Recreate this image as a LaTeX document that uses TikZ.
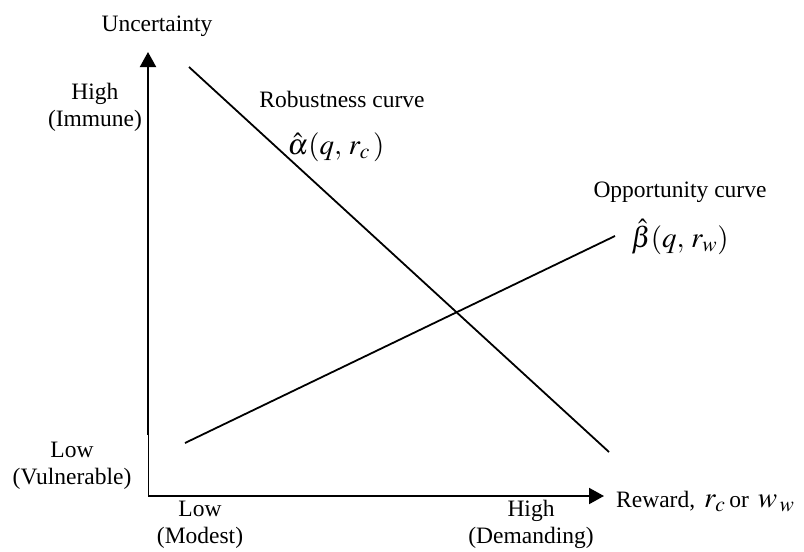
\documentclass[tikz,border=0pt]{standalone}
\usepackage{mathptmx}
\usepackage{fontspec}
\setmainfont{Liberation Serif}
\usetikzlibrary{positioning, arrows.meta}

\begin{document}
\begin{tikzpicture}[
  x=1pt, y=-1pt,
  axis/.style={
    -{Triangle[length=15pt, width=16pt]},
    draw=black,
    line width=2pt
  },
  curve/.style={
    draw=black,
    line width=1.8pt
  },
  lbl/.style={
    inner sep=0pt,
    anchor=base,
    align=center,
    font=\fontsize{23.5}{27}\selectfont
  },
  mlbl/.style={
    inner sep=0pt,
    anchor=base,
    font=\fontsize{29}{32}\selectfont
  }
]
\useasboundingbox (0,0) rectangle (804,552);

% axes
\coordinate (origin) at (148,496);
\coordinate (ybreak) at (148,435);
\coordinate (ytop) at (148,52);
\coordinate (xend) at (604,496);

\draw[axis] (ybreak) -- (ytop);
\draw[black, line width=0.8pt] (origin) -- (ybreak);
\draw[axis] (origin) -- (xend);

% curves
\coordinate (robstart) at (189,67);
\coordinate (robend) at (609,452);
\coordinate (oppstart) at (185,443);
\coordinate (oppend) at (615,236);

\draw[curve] (robstart) -- (robend);
\draw[curve] (oppstart) -- (oppend);

% labels (base = last line)
\node[lbl] (uncert) at (157,31) {Uncertainty};
\node[lbl] (yhigh) at (95,126) {High\\(Immune)};
\node[lbl] (ylow) at (72,484) {Low\\(Vulnerable)};
\node[lbl] (xlow) at (200,543) {Low\\(Modest)};
\node[lbl] (xhigh) at (531,543) {High\\(Demanding)};
\node[lbl, anchor=base west] (reward) at (616,507)
  {Reward,\hspace{9pt}{\fontsize{29}{32}\selectfont$r_c$}\,or\hspace{9pt}{\fontsize{29}{32}\selectfont$w_{\,w}$}};

\node[lbl] (robname) at (342,107) {Robustness curve};
\node[mlbl] (robfn) at (336,154) {$\hat{\alpha}(q,\,r_c\,)$};
\node[lbl] (oppname) at (680,197) {Opportunity curve};
\node[mlbl] (oppfn) at (680,247) {$\hat{\beta}(q,\,r_w)$};

\end{tikzpicture}
\end{document}
